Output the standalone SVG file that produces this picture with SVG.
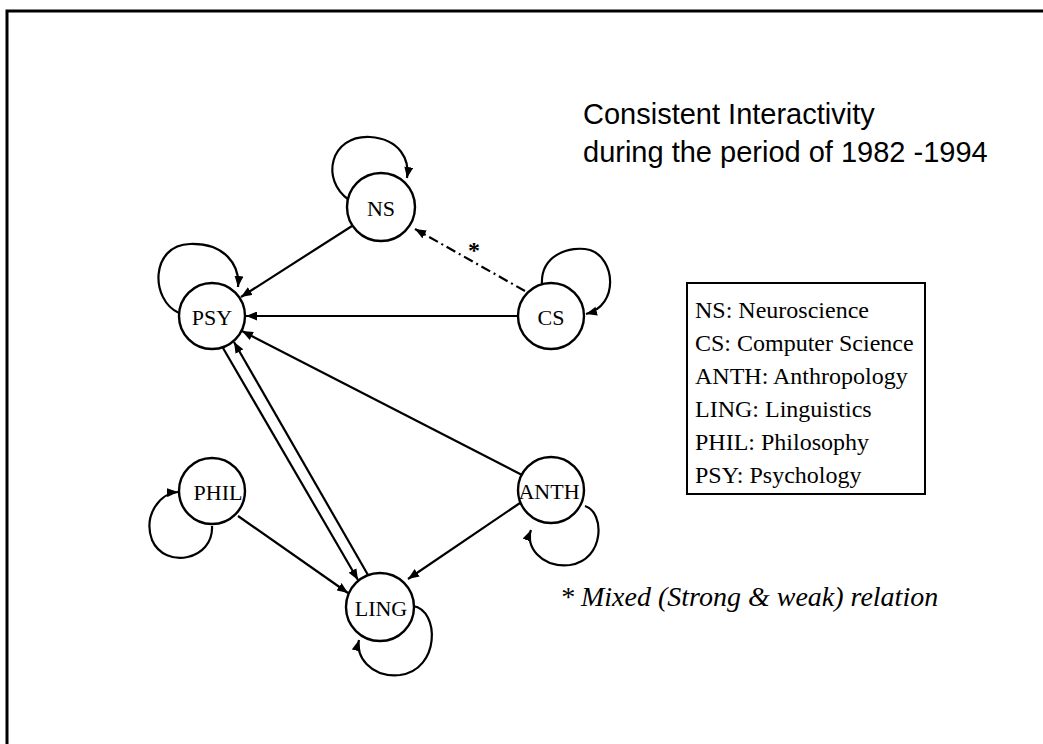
<svg xmlns="http://www.w3.org/2000/svg" width="1043" height="744" viewBox="0 0 1043 744">
<style>
.n{fill:#fff;stroke:#000;stroke-width:2.4}
.l{font-family:"Liberation Serif","Times New Roman",serif;font-size:22px;text-anchor:middle;dominant-baseline:central;fill:#000}
.e{fill:none;stroke:#000;stroke-width:2.2}
.lg{font-family:"Liberation Serif","Times New Roman",serif;font-size:24px;fill:#000}
.t{font-family:"Liberation Sans",Arial,sans-serif;font-size:29px;fill:#000}
</style>
<defs>
<marker id="a" viewBox="0 0 10 10" refX="10" refY="5" markerWidth="11" markerHeight="9" orient="auto" markerUnits="userSpaceOnUse" preserveAspectRatio="none">
<path d="M0,0 L10,5 L0,10 z" fill="#000"/>
</marker>
</defs>
<rect width="1043" height="744" fill="#fff"/>
<path d="M7,744 V11 H1043" fill="none" stroke="#000" stroke-width="3"/>
<g id="title">
<text class="t" x="583" y="124">Consistent Interactivity</text>
<text class="t" x="583" y="162">during the period of 1982 -1994</text>
</g>
<g id="connectors">
<line class="e" x1="352" y1="226" x2="241" y2="297" marker-end="url(#a)"/>
<line class="e" x1="518" y1="316" x2="246" y2="316" marker-end="url(#a)"/>
<line class="e" x1="522" y1="475" x2="242" y2="331" marker-end="url(#a)"/>
<line class="e" x1="223" y1="348" x2="358" y2="580" marker-end="url(#a)"/>
<line class="e" x1="368" y1="575" x2="234" y2="342" marker-end="url(#a)"/>
<line class="e" x1="238" y1="516" x2="348" y2="593" marker-end="url(#a)"/>
<line class="e" x1="520" y1="503" x2="408" y2="579" marker-end="url(#a)"/>
<line class="e" x1="525" y1="291" x2="415" y2="229" stroke-dasharray="10,4,2,4" marker-end="url(#a)"/>
<path class="e" d="M349,200 C320,180 330,135 370,137 C400,139 410,160 407,178" marker-end="url(#a)"/>
<path class="e" d="M179,313 C150,300 150,245 190,244 C225,243 240,265 238,287" marker-end="url(#a)"/>
<path class="e" d="M542,285 C540,255 570,245 590,250 C615,258 620,305 586,314" marker-end="url(#a)"/>
<path class="e" d="M212,526 C214,560 165,570 152,540 C143,515 160,493 178,492" marker-end="url(#a)"/>
<path class="e" d="M585,506 C605,512 605,560 570,565 C540,568 525,545 531,530" marker-end="url(#a)"/>
<path class="e" d="M413,606 C440,610 440,670 400,675 C370,678 355,655 359,640" marker-end="url(#a)"/>
<text x="474" y="258" font-family="Liberation Serif, serif" font-size="24" font-weight="bold" text-anchor="middle">*</text>
</g>
<g id="NS"><circle class="n" cx="381" cy="207" r="34"/><text class="l" x="381" y="208">NS</text></g>
<g id="PSY"><circle class="n" cx="212" cy="316" r="33"/><text class="l" x="212" y="317">PSY</text></g>
<g id="CS"><circle class="n" cx="551" cy="316" r="33"/><text class="l" x="551" y="317">CS</text></g>
<g id="PHIL"><circle class="n" cx="212" cy="491" r="33"/><text class="l" x="218" y="492">PHIL</text></g>
<g id="ANTH"><circle class="n" cx="551" cy="490" r="33"/><text class="l" x="549" y="491">ANTH</text></g>
<g id="LING"><circle class="n" cx="380" cy="607" r="34"/><text class="l" x="381" y="608">LING</text></g>
<g id="legend">
<rect x="687" y="283" width="238" height="211" fill="#fff" stroke="#000" stroke-width="2"/>
<text class="lg" x="695" y="318">NS: Neuroscience</text>
<text class="lg" x="695" y="351">CS: Computer Science</text>
<text class="lg" x="695" y="384">ANTH: Anthropology</text>
<text class="lg" x="695" y="417">LING: Linguistics</text>
<text class="lg" x="695" y="450">PHIL: Philosophy</text>
<text class="lg" x="695" y="483">PSY: Psychology</text>
</g>
<g id="note">
<text x="560" y="606" font-family="Liberation Serif, serif" font-size="28" font-style="italic">* Mixed (Strong &amp; weak) relation</text>
</g>
</svg>
